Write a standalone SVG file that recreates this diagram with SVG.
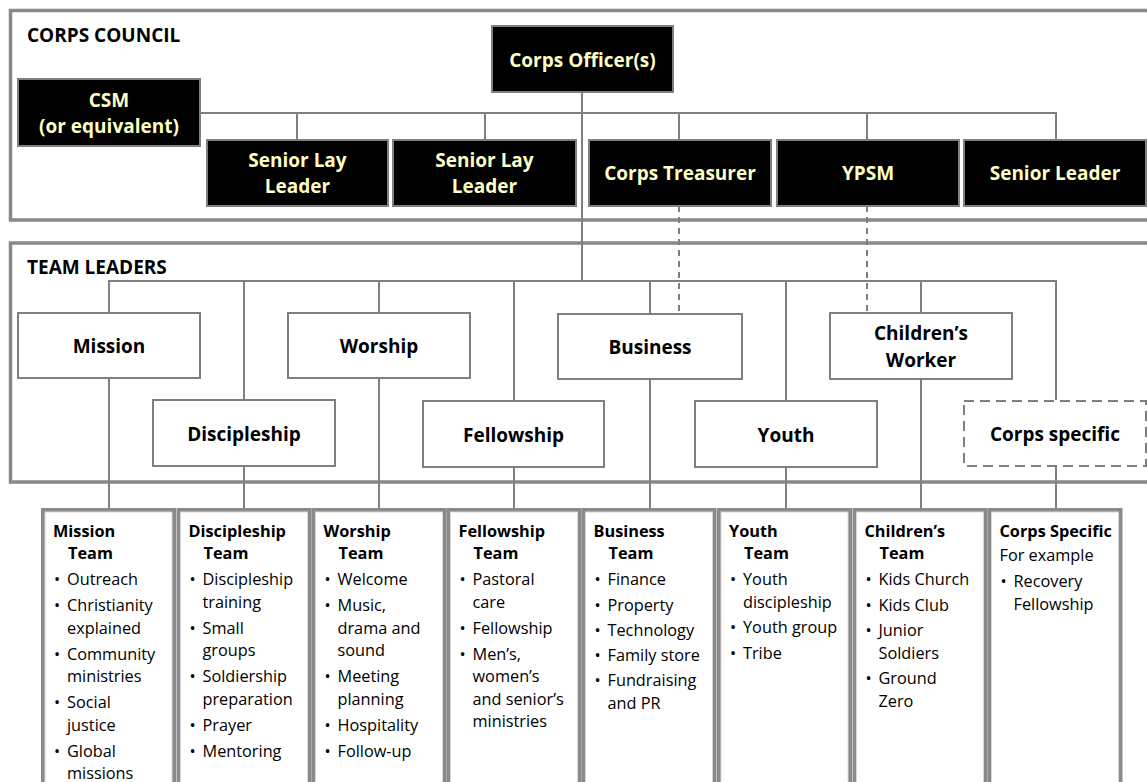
<svg xmlns="http://www.w3.org/2000/svg" width="1147" height="782" viewBox="0 0 1147 782">
<style>
  text { font-family: "Open Sans", "Liberation Sans", sans-serif; }
  .panel { fill: none; stroke: #888888; stroke-width: 3.5; }
  .title { font-size: 19px; font-weight: bold; fill: #000; }
  .dark rect { fill: #000; stroke: #7f7f7f; stroke-width: 2; }
  .dark text { font-size: 19px; font-weight: bold; fill: #FFFFC4; text-anchor: middle; }
  .light rect { fill: #fff; stroke: #7f7f7f; stroke-width: 2; }
  .light text { font-size: 19px; font-weight: bold; fill: #000; text-anchor: middle; }
  .dashedbox rect { fill: #fff; stroke: #7f7f7f; stroke-width: 2; stroke-dasharray: 10 6; }
  .conn line, .conn path { stroke: #808080; stroke-width: 2; fill: none; }
  .conn .dash { stroke-dasharray: 6 5; }
  .col .outer { fill: #fff; stroke: #8a8a8a; stroke-width: 4; }
  .col .inner { fill: none; stroke: #d8d8d8; stroke-width: 1; }
  .col text { font-size: 16.3px; fill: #000; }
  .col .h { font-weight: bold; }
</style>

<!-- panels -->
<g id="corps-council-panel">
  <path class="panel" d="M1150 10.5 H10.5 V220 H1150"/>
  <text class="title" x="27" y="42">CORPS COUNCIL</text>
</g>
<g id="team-leaders-panel">
  <path class="panel" d="M1150 243 H10.5 V482 H1150"/>
  <text class="title" x="27" y="274">TEAM LEADERS</text>
</g>

<!-- connectors -->
<g id="connectors" class="conn">
  <line x1="582" y1="92" x2="582" y2="281"/>
  <path d="M200 113 H1057"/>
  <line x1="297" y1="113" x2="297" y2="140"/>
  <line x1="485" y1="113" x2="485" y2="140"/>
  <line x1="679" y1="113" x2="679" y2="140"/>
  <line x1="867" y1="113" x2="867" y2="140"/>
  <line x1="1056" y1="113" x2="1056" y2="140"/>
  <line class="dash" x1="679" y1="206" x2="679" y2="313"/>
  <line class="dash" x1="867" y1="206" x2="867" y2="313"/>
  <path d="M109 313 V281 H1056 V400"/>
  <line x1="244" y1="281" x2="244" y2="400"/>
  <line x1="379" y1="281" x2="379" y2="313"/>
  <line x1="514" y1="281" x2="514" y2="400"/>
  <line x1="650" y1="281" x2="650" y2="313"/>
  <line x1="786" y1="281" x2="786" y2="400"/>
  <line x1="921" y1="281" x2="921" y2="313"/>
  <line x1="109" y1="378" x2="109" y2="510"/>
  <line x1="244" y1="466" x2="244" y2="510"/>
  <line x1="379" y1="378" x2="379" y2="510"/>
  <line x1="514" y1="466" x2="514" y2="510"/>
  <line x1="650" y1="379" x2="650" y2="510"/>
  <line x1="786" y1="466" x2="786" y2="510"/>
  <line x1="921" y1="379" x2="921" y2="510"/>
  <line x1="1056" y1="466" x2="1056" y2="510"/>
</g>

<!-- corps council nodes -->
<g id="corps-officer" class="dark">
  <rect x="492" y="26" width="181" height="66"/>
  <text x="582.5" y="67">Corps Officer(s)</text>
</g>
<g id="csm" class="dark">
  <rect x="18" y="79" width="182" height="67"/>
  <text x="109" y="107">CSM</text>
  <text x="109" y="133">(or equivalent)</text>
</g>
<g id="senior-lay-leader-1" class="dark">
  <rect x="207" y="140" width="181" height="66"/>
  <text x="297.5" y="167">Senior Lay</text>
  <text x="297.5" y="193">Leader</text>
</g>
<g id="senior-lay-leader-2" class="dark">
  <rect x="393" y="140" width="183" height="66"/>
  <text x="484.5" y="167">Senior Lay</text>
  <text x="484.5" y="193">Leader</text>
</g>
<g id="corps-treasurer" class="dark">
  <rect x="589" y="140" width="182" height="66"/>
  <text x="680" y="180">Corps Treasurer</text>
</g>
<g id="ypsm" class="dark">
  <rect x="777" y="140" width="182" height="66"/>
  <text x="868" y="180">YPSM</text>
</g>
<g id="senior-leader" class="dark">
  <rect x="964" y="140" width="182" height="66"/>
  <text x="1055" y="180">Senior Leader</text>
</g>

<!-- team leader nodes -->
<g id="mission" class="light">
  <rect x="18" y="313" width="182" height="65"/>
  <text x="109" y="353">Mission</text>
</g>
<g id="discipleship" class="light">
  <rect x="153" y="400" width="182" height="66"/>
  <text x="244" y="441">Discipleship</text>
</g>
<g id="worship" class="light">
  <rect x="288" y="313" width="182" height="65"/>
  <text x="379" y="353">Worship</text>
</g>
<g id="fellowship" class="light">
  <rect x="423" y="401" width="181" height="66"/>
  <text x="513.5" y="442">Fellowship</text>
</g>
<g id="business" class="light">
  <rect x="558" y="314" width="184" height="65"/>
  <text x="650" y="354">Business</text>
</g>
<g id="youth" class="light">
  <rect x="695" y="401" width="182" height="66"/>
  <text x="786" y="442">Youth</text>
</g>
<g id="childrens-worker" class="light">
  <rect x="830" y="313" width="182" height="66"/>
  <text x="921" y="340">Children’s</text>
  <text x="921" y="367">Worker</text>
</g>
<g id="corps-specific" class="dashedbox light">
  <rect x="964" y="401" width="182" height="65"/>
  <text x="1055" y="441">Corps specific</text>
</g>

<!-- team columns -->
<g id="mission-team" class="col" transform="translate(43,0)">
  <rect class="outer" x="0" y="510" width="131" height="290"/>
  <rect class="inner" x="2" y="512" width="127" height="290"/>
  <text class="h" x="10" y="537">Mission</text>
  <text class="h" x="25" y="559">Team</text>
  <text x="11" y="585">•</text><text x="24" y="585">Outreach</text>
  <text x="11" y="611">•</text><text x="24" y="611">Christianity</text>
  <text x="24" y="633.5">explained</text>
  <text x="11" y="659.5">•</text><text x="24" y="659.5">Community</text>
  <text x="24" y="682">ministries</text>
  <text x="11" y="708">•</text><text x="24" y="708">Social</text>
  <text x="24" y="730.5">justice</text>
  <text x="11" y="756.5">•</text><text x="24" y="756.5">Global</text>
  <text x="24" y="779">missions</text>
</g>
<g id="discipleship-team" class="col" transform="translate(178.5,0)">
  <rect class="outer" x="0" y="510" width="131" height="290"/>
  <rect class="inner" x="2" y="512" width="127" height="290"/>
  <text class="h" x="10" y="537">Discipleship</text>
  <text class="h" x="25" y="559">Team</text>
  <text x="11" y="585">•</text><text x="24" y="585">Discipleship</text>
  <text x="24" y="607.5">training</text>
  <text x="11" y="633.5">•</text><text x="24" y="633.5">Small</text>
  <text x="24" y="656">groups</text>
  <text x="11" y="682">•</text><text x="24" y="682">Soldiership</text>
  <text x="24" y="704.5">preparation</text>
  <text x="11" y="730.5">•</text><text x="24" y="730.5">Prayer</text>
  <text x="11" y="756.5">•</text><text x="24" y="756.5">Mentoring</text>
</g>
<g id="worship-team" class="col" transform="translate(313.5,0)">
  <rect class="outer" x="0" y="510" width="131" height="290"/>
  <rect class="inner" x="2" y="512" width="127" height="290"/>
  <text class="h" x="10" y="537">Worship</text>
  <text class="h" x="25" y="559">Team</text>
  <text x="11" y="585">•</text><text x="24" y="585">Welcome</text>
  <text x="11" y="611">•</text><text x="24" y="611">Music,</text>
  <text x="24" y="633.5">drama and</text>
  <text x="24" y="656">sound</text>
  <text x="11" y="682">•</text><text x="24" y="682">Meeting</text>
  <text x="24" y="704.5">planning</text>
  <text x="11" y="730.5">•</text><text x="24" y="730.5">Hospitality</text>
  <text x="11" y="756.5">•</text><text x="24" y="756.5">Follow-up</text>
</g>
<g id="fellowship-team" class="col" transform="translate(448.5,0)">
  <rect class="outer" x="0" y="510" width="131" height="290"/>
  <rect class="inner" x="2" y="512" width="127" height="290"/>
  <text class="h" x="10" y="537">Fellowship</text>
  <text class="h" x="25" y="559">Team</text>
  <text x="11" y="585">•</text><text x="24" y="585">Pastoral</text>
  <text x="24" y="607.5">care</text>
  <text x="11" y="633.5">•</text><text x="24" y="633.5">Fellowship</text>
  <text x="11" y="659.5">•</text><text x="24" y="659.5">Men’s,</text>
  <text x="24" y="682">women’s</text>
  <text x="24" y="704.5">and senior’s</text>
  <text x="24" y="727">ministries</text>
</g>
<g id="business-team" class="col" transform="translate(583.5,0)">
  <rect class="outer" x="0" y="510" width="131" height="290"/>
  <rect class="inner" x="2" y="512" width="127" height="290"/>
  <text class="h" x="10" y="537">Business</text>
  <text class="h" x="25" y="559">Team</text>
  <text x="11" y="585">•</text><text x="24" y="585">Finance</text>
  <text x="11" y="610.5">•</text><text x="24" y="610.5">Property</text>
  <text x="11" y="636">•</text><text x="24" y="636">Technology</text>
  <text x="11" y="661">•</text><text x="24" y="661">Family store</text>
  <text x="11" y="686">•</text><text x="24" y="686">Fundraising</text>
  <text x="24" y="708.5">and PR</text>
</g>
<g id="youth-team" class="col" transform="translate(719,0)">
  <rect class="outer" x="0" y="510" width="131" height="290"/>
  <rect class="inner" x="2" y="512" width="127" height="290"/>
  <text class="h" x="10" y="537">Youth</text>
  <text class="h" x="25" y="559">Team</text>
  <text x="11" y="585">•</text><text x="24" y="585">Youth</text>
  <text x="24" y="607.5">discipleship</text>
  <text x="11" y="633">•</text><text x="24" y="633">Youth group</text>
  <text x="11" y="658.5">•</text><text x="24" y="658.5">Tribe</text>
</g>
<g id="childrens-team" class="col" transform="translate(854.5,0)">
  <rect class="outer" x="0" y="510" width="131" height="290"/>
  <rect class="inner" x="2" y="512" width="127" height="290"/>
  <text class="h" x="10" y="537">Children’s</text>
  <text class="h" x="25" y="559">Team</text>
  <text x="11" y="585">•</text><text x="24" y="585">Kids Church</text>
  <text x="11" y="610.5">•</text><text x="24" y="610.5">Kids Club</text>
  <text x="11" y="636">•</text><text x="24" y="636">Junior</text>
  <text x="24" y="658.5">Soldiers</text>
  <text x="11" y="684">•</text><text x="24" y="684">Ground</text>
  <text x="24" y="706.5">Zero</text>
</g>
<g id="corps-specific-team" class="col" transform="translate(989.5,0)">
  <rect class="outer" x="0" y="510" width="131" height="290"/>
  <rect class="inner" x="2" y="512" width="127" height="290"/>
  <text class="h" x="10" y="537">Corps Specific</text>
  <text x="10" y="561">For example</text>
  <text x="11" y="587">•</text><text x="24" y="587">Recovery</text>
  <text x="24" y="609.5">Fellowship</text>
</g>
</svg>
